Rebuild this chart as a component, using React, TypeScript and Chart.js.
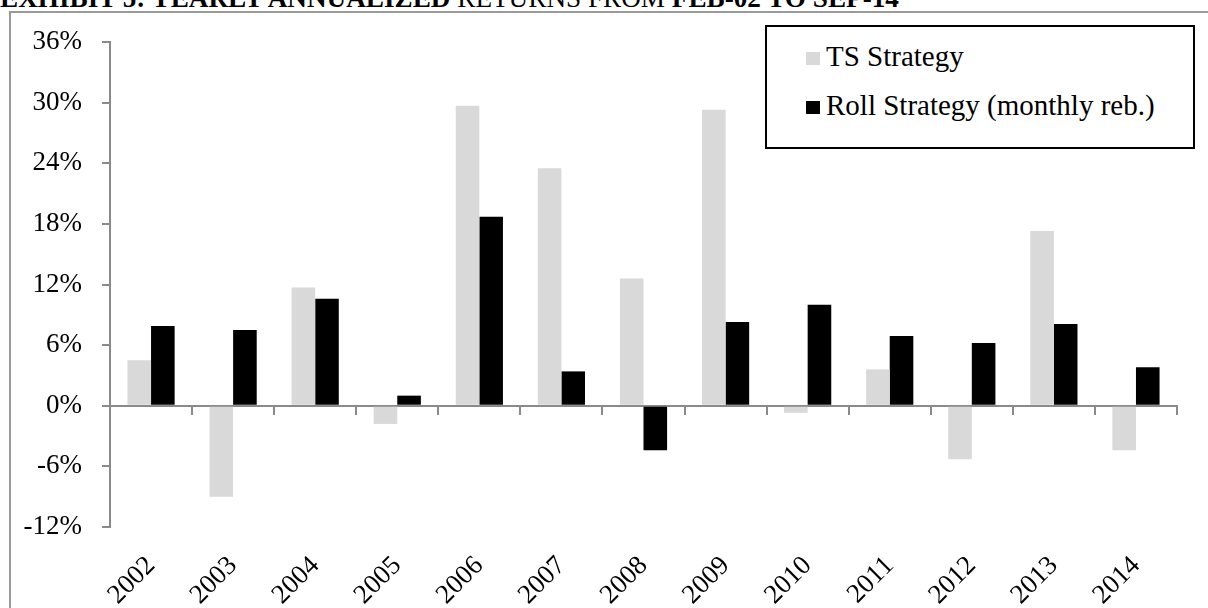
import React, { useEffect, useRef } from "react";
import { Chart, registerables } from "chart.js";

Chart.register(...registerables);

const years = ["2002", "2003", "2004", "2005", "2006", "2007", "2008", "2009", "2010", "2011", "2012", "2013", "2014"];
const tsStrategy = [4.5, -9.0, 11.7, -1.8, 29.7, 23.5, 12.6, 29.3, -0.7, 3.6, -5.3, 17.3, -4.4];
const rollStrategy = [7.9, 7.5, 10.6, 1.0, 18.7, 3.4, -4.4, 8.3, 10.0, 6.9, 6.2, 8.1, 3.8];
const seriesNames = ["TS Strategy", "Roll Strategy (monthly reb.)"];
const seriesColors = ["#d9d9d9", "#000000"];
const yMin = -12;
const yMax = 36;
const yStep = 6;
const titleParts = [
  { text: "EXHIBIT 5: YEARLY ANNUALIZED ", bold: true },
  { text: "RETURNS FROM ", bold: false },
  { text: "FEB-02 TO SEP-14", bold: true },
];

const FONT = "'Liberation Serif', 'Times New Roman', serif";
const AXIS_GRAY = "#8a8a8a";

export default function App() {
  const canvasRef = useRef<HTMLCanvasElement | null>(null);

  useEffect(() => {
    const canvas = canvasRef.current;
    if (!canvas) return;
    const chart = new Chart(canvas, {
      type: "bar",
      data: {
        labels: years,
        datasets: [
          {
            label: seriesNames[0],
            data: tsStrategy,
            backgroundColor: seriesColors[0],
            borderWidth: 0,
            xAxisID: "x",
            yAxisID: "y",
          },
          {
            label: seriesNames[1],
            data: rollStrategy,
            backgroundColor: seriesColors[1],
            borderWidth: 0,
            xAxisID: "x",
            yAxisID: "y",
          },
        ],
      },
      options: {
        responsive: false,
        animation: false,
        devicePixelRatio: 1,
        layout: { padding: { left: 0, top: 42, right: 31, bottom: 0 } },
        datasets: {
          bar: { categoryPercentage: 0.575, barPercentage: 1 },
        },
        plugins: {
          legend: { display: false },
          tooltip: { enabled: false },
          title: { display: false },
        },
        scales: {
          x: {
            type: "category",
            position: "bottom",
            offset: true,
            grid: { display: false, drawTicks: false },
            border: { display: false },
            ticks: {
              autoSkip: false,
              maxRotation: 45,
              minRotation: 45,
              padding: 23,
              color: "#000",
              font: { family: FONT, size: 27 },
            },
            afterFit: (scale: any) => {
              scale.height = 81;
            },
          },
          x2: {
            type: "category",
            axis: "x",
            position: { y: 0 },
            offset: true,
            grid: {
              offset: true,
              drawOnChartArea: false,
              drawTicks: true,
              tickLength: 8,
              color: AXIS_GRAY,
              lineWidth: 2,
            },
            border: { display: true, color: AXIS_GRAY, width: 2 },
            ticks: { display: false },
          },
          y: {
            type: "linear",
            position: "left",
            min: yMin,
            max: yMax,
            ticks: {
              stepSize: yStep,
              padding: 20,
              color: "#000",
              font: { family: FONT, size: 27 },
              callback: (v: any) => `${v}%`,
            },
            grid: {
              drawOnChartArea: false,
              drawTicks: true,
              tickLength: 8,
              color: AXIS_GRAY,
              lineWidth: 2,
            },
            border: { display: true, color: AXIS_GRAY, width: 2 },
            afterFit: (scale: any) => {
              scale.width = 110;
            },
          },
        },
      } as any,
    });
    return () => chart.destroy();
  }, []);

  return (
    <div
      style={{
        position: "fixed",
        left: 0,
        top: 0,
        width: 1208,
        height: 608,
        background: "#fff",
        overflow: "hidden",
        fontFamily: FONT,
      }}
    >
      <div
        style={{
          position: "absolute",
          left: 0,
          top: -15,
          fontSize: 27.2,
          lineHeight: "27.2px",
          whiteSpace: "nowrap",
          color: "#000",
        }}
      >
        {titleParts.map((p, i) => (
          <span key={i} style={{ fontWeight: p.bold ? "bold" : "normal" }}>
            {p.text}
          </span>
        ))}
      </div>
      <div
        style={{
          position: "absolute",
          left: 9,
          top: 11,
          width: 1199,
          height: 597,
          borderTop: "2px solid #9a9a9a",
          borderLeft: "2px solid #9a9a9a",
          boxSizing: "border-box",
        }}
      />
      <canvas
        ref={canvasRef}
        width={1208}
        height={608}
        style={{ position: "absolute", left: 0, top: 0, width: 1208, height: 608 }}
      />
      <div
        style={{
          position: "absolute",
          left: 765,
          top: 25,
          width: 430,
          height: 124,
          border: "2px solid #000",
          boxSizing: "border-box",
          background: "#fff",
        }}
      >
        {seriesNames.map((name, i) => (
          <div
            key={name}
            style={{
              position: "absolute",
              left: 39,
              top: 9 + i * 49,
              height: 40,
              display: "flex",
              alignItems: "center",
              whiteSpace: "nowrap",
              fontSize: 29,
              color: "#000",
            }}
          >
            <span
              style={{
                display: "inline-block",
                width: 14,
                height: 13,
                background: seriesColors[i],
                marginRight: 6,
                marginTop: 4,
              }}
            />
            <span>{name}</span>
          </div>
        ))}
      </div>
    </div>
  );
}
